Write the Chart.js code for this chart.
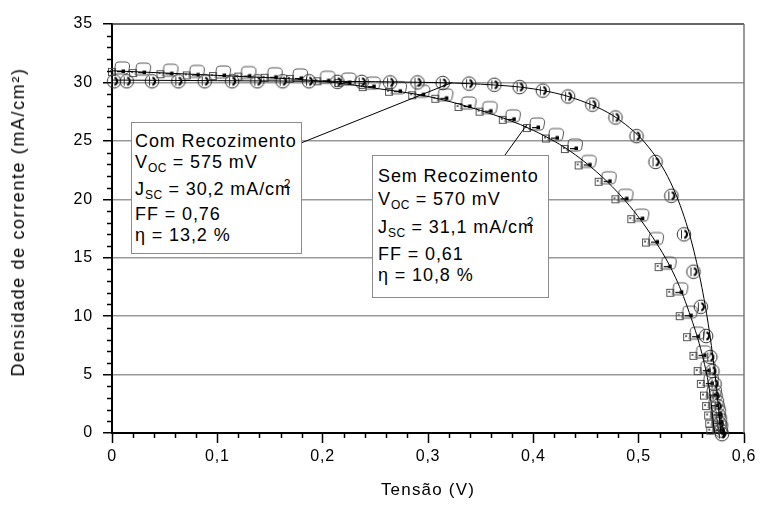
<!DOCTYPE html>
<html><head><meta charset="utf-8">
<script src="https://cdn.jsdelivr.net/npm/chart.js@4.4.1/dist/chart.umd.min.js"></script>
<style>
html,body{margin:0;padding:0;background:#fff;}
#wrap{position:relative;width:760px;height:506px;overflow:hidden;background:#fff;}
#c{position:absolute;left:0;top:0;}
.box{position:absolute;background:#fff;border:1px solid #8c8c8c;font-family:"Liberation Sans",Arial,sans-serif;font-size:18px;color:#000;letter-spacing:0.9px;box-sizing:border-box;}
.box div{position:absolute;white-space:nowrap;line-height:18px;}
.sb{font-size:12px;position:relative;top:4px;letter-spacing:0.5px;}
.sp{font-size:12px;position:relative;top:-7px;margin-left:-7px;}
.ttl{position:absolute;white-space:nowrap;font-family:"Liberation Sans",Arial,sans-serif;font-size:17px;letter-spacing:1.2px;color:#000;line-height:20px;}
.ytl{font-size:18px;letter-spacing:1.6px;}
</style></head>
<body>
<div id="wrap">
<canvas id="c" width="760" height="506"></canvas>
<div class="box" style="left:131px;top:122px;width:171px;height:132px;">
  <div style="left:3px;top:9px;">Com Recozimento</div>
  <div style="left:3px;top:30px;">V<span class="sb">OC</span> = 575 mV</div>
  <div style="left:3px;top:57px;">J<span class="sb">SC</span> = 30,2 mA/cm<span class="sp">2</span></div>
  <div style="left:3px;top:82px;">FF = 0,76</div>
  <div style="left:3px;top:103px;">η = 13,2 %</div>
</div>
<div class="box" style="left:372px;top:155px;width:177px;height:143px;">
  <div style="left:5px;top:11px;">Sem Recozimento</div>
  <div style="left:5px;top:34px;">V<span class="sb">OC</span> = 570 mV</div>
  <div style="left:5px;top:62px;">J<span class="sb">SC</span> = 31,1 mA/cm<span class="sp">2</span></div>
  <div style="left:5px;top:89px;">FF = 0,61</div>
  <div style="left:5px;top:110px;">η = 10,8 %</div>
</div>
<div class="ttl" style="left:428px;top:490px;transform:translate(-50%,-50%);">Tensão (V)</div>
<div class="ttl ytl" style="left:18px;top:222px;transform:translate(-50%,-50%) rotate(-90deg);">Densidade de corrente (mA/cm²)</div>
</div>
<script>
// ---- data ----
const comV = [0.002,0.014,0.038,0.063,0.088,0.114,0.138,0.162,0.187,0.214,0.237,0.264,0.290,0.314,0.339,0.363,0.387,0.409,0.433,0.456,0.478,0.498,0.516,0.531,0.543,0.552,0.559,0.564,0.568,0.570,0.572,0.573,0.575,0.576,0.577,0.578,0.579];
const comJ = [30.1,30.1,30.1,30.1,30.1,30.1,30.1,30.1,30.1,30.05,30.05,30.0,30.0,29.95,29.9,29.8,29.6,29.3,28.8,28.1,27.0,25.4,23.2,20.3,17.0,13.8,10.8,8.3,6.5,5.3,4.2,3.2,2.3,1.5,0.8,0.2,-0.1];
const semV = [0.000,0.020,0.046,0.071,0.096,0.120,0.145,0.169,0.195,0.215,0.238,0.263,0.285,0.307,0.329,0.349,0.371,0.394,0.412,0.430,0.443,0.462,0.478,0.493,0.507,0.519,0.530,0.539,0.546,0.552,0.556,0.559,0.562,0.564,0.566,0.567,0.568];
const semJ = [30.9,30.8,30.7,30.6,30.55,30.5,30.4,30.3,30.1,29.95,29.6,29.2,28.9,28.6,27.9,27.5,26.8,26.1,25.2,24.3,22.9,21.5,20.0,18.3,16.3,14.2,12.0,10.0,8.2,6.6,5.3,4.2,3.2,2.3,1.5,0.8,0.2];
const comFitV = [0,0.1,0.2,0.3,0.35,0.4,0.44,0.48,0.51,0.53,0.545,0.555,0.563,0.569,0.574,0.578];
const comFitJ = [30.2,30.15,30.1,30.0,29.85,29.45,28.6,26.9,24.4,21.5,18.0,14.6,11.0,7.5,3.8,0];
const semFitV = [0,0.1,0.2,0.25,0.3,0.35,0.4,0.44,0.48,0.51,0.535,0.55,0.56,0.567,0.572];
const semFitJ = [31.0,30.6,30.1,29.5,28.8,27.6,25.9,23.8,20.6,17.2,13.3,9.8,6.8,3.8,0];
const xTickLabels = ['0','0,1','0,2','0,3','0,4','0,5','0,6'];
const yTickLabels = ['0','5','10','15','20','25','30','35'];
// leader line targets (data coords)
const comLeader = {v:0.323, j:30.0};
const semLeader = {v:0.394, j:26.4};

const FONT = '"Liberation Sans", Arial, sans-serif';

function makeCom(){
  const c=document.createElement('canvas'); c.width=18; c.height=18;
  const g=c.getContext('2d');
  g.strokeStyle='#333'; g.lineWidth=1;
  g.beginPath(); g.arc(9,9,6.8,0,Math.PI*2); g.stroke();
  g.beginPath(); g.moveTo(6.5,4.5); g.lineTo(6.5,13.5); g.stroke();
  g.strokeStyle='#000'; g.lineWidth=2.2;
  g.beginPath(); g.arc(8,9,4,-Math.PI/2.6,Math.PI/2.6); g.stroke();
  return c;
}
function makeSem(){
  const c=document.createElement('canvas'); c.width=40; c.height=26;
  const g=c.getContext('2d');
  g.strokeStyle='#444'; g.lineWidth=0.9;
  g.strokeRect(16.5,9.5,7,7);
  g.beginPath();
  g.moveTo(22,15); g.lineTo(23.5,5); g.quadraticCurveTo(24,3,27,3);
  g.lineTo(33,3); g.quadraticCurveTo(38,3,37.5,8); g.lineTo(36.5,13);
  g.quadraticCurveTo(36,15,33,15); g.closePath(); g.stroke();
  g.fillStyle='#000';
  g.fillRect(25,12,5,1.2); g.fillRect(29.5,10.5,3.5,3.5);
  g.fillStyle='#666'; g.fillRect(18,11,2,2);
  return c;
}

const decor = {
  id:'decor',
  beforeDraw(chart){ chart.ctx.letterSpacing='0.8px'; },
  afterDraw(chart){
    const {ctx, chartArea:a, scales:{x,y}} = chart;
    ctx.save();
    ctx.strokeStyle='#333'; ctx.lineWidth=1.5;
    ctx.beginPath(); ctx.moveTo(a.left,a.top); ctx.lineTo(a.right,a.top); ctx.stroke();
    ctx.strokeStyle='#777';
    ctx.beginPath(); ctx.moveTo(a.right,a.top); ctx.lineTo(a.right,a.bottom); ctx.stroke();
    ctx.strokeStyle='#000'; ctx.lineWidth=1.5;
    for(let k=0;k<=35;k++){ if(k%5===0) continue; const py=Math.round(y.getPixelForValue(k))+0.5;
      ctx.beginPath(); ctx.moveTo(a.left-5,py); ctx.lineTo(a.left,py); ctx.stroke(); }
    for(let k=0;k<=30;k++){ if(k%5===0) continue; const px=Math.round(x.getPixelForValue(k*0.02))+0.5;
      ctx.beginPath(); ctx.moveTo(px,a.bottom); ctx.lineTo(px,a.bottom+5); ctx.stroke(); }
    ctx.strokeStyle='#000'; ctx.lineWidth=1;
    ctx.beginPath(); ctx.moveTo(301,143); ctx.lineTo(x.getPixelForValue(comLeader.v), y.getPixelForValue(comLeader.j)); ctx.stroke();
    ctx.beginPath(); ctx.moveTo(505,155); ctx.lineTo(x.getPixelForValue(semLeader.v), y.getPixelForValue(semLeader.j)); ctx.stroke();
    ctx.restore();
  }
};

const pts=(V,J)=>V.map((v,i)=>({x:v,y:J[i]}));

new Chart(document.getElementById('c'),{
  type:'scatter',
  data:{datasets:[
    {label:'Com fit',data:pts(comFitV,comFitJ),showLine:true,borderColor:'#000',borderWidth:1,pointRadius:0,cubicInterpolationMode:'monotone',order:0},
    {label:'Sem fit',data:pts(semFitV,semFitJ),showLine:true,borderColor:'#000',borderWidth:1,pointRadius:0,cubicInterpolationMode:'monotone',order:0},
    {label:'Com Recozimento',data:pts(comV,comJ),pointStyle:makeCom(),pointRadius:7,clip:false,order:1},
    {label:'Sem Recozimento',data:pts(semV,semJ),pointStyle:makeSem(),pointRadius:7,clip:false,order:1}
  ]},
  options:{
    responsive:false, animation:false, devicePixelRatio:1,
    layout:{padding:{left:0,right:16,top:24,bottom:0}},
    plugins:{legend:{display:false},tooltip:{enabled:false}},
    scales:{
      x:{type:'linear',min:0,max:0.6,
        afterFit:s=>{s.height=73;},
        ticks:{stepSize:0.1,color:'#000',font:{family:FONT,size:16},padding:4,maxRotation:0,
          callback:(v)=>xTickLabels[Math.round(v*10)]},
        grid:{drawOnChartArea:false,tickLength:10,tickColor:'#000',tickWidth:1.5},
        border:{color:'#000',width:2}
      },
      y:{min:0,max:35,
        afterFit:s=>{s.width=112;},
        ticks:{stepSize:5,color:'#000',font:{family:FONT,size:16},padding:10,
          callback:(v)=>yTickLabels[Math.round(v/5)]},
        grid:{color:(c)=>(c.tick && c.tick.value>0 && c.tick.value<35)?'#999':'rgba(0,0,0,0)',lineWidth:1.5,tickLength:9,tickColor:'#000',tickWidth:1.5},
        border:{color:'#000',width:2}
      }
    }
  },
  plugins:[decor]
});
</script>
</body></html>
